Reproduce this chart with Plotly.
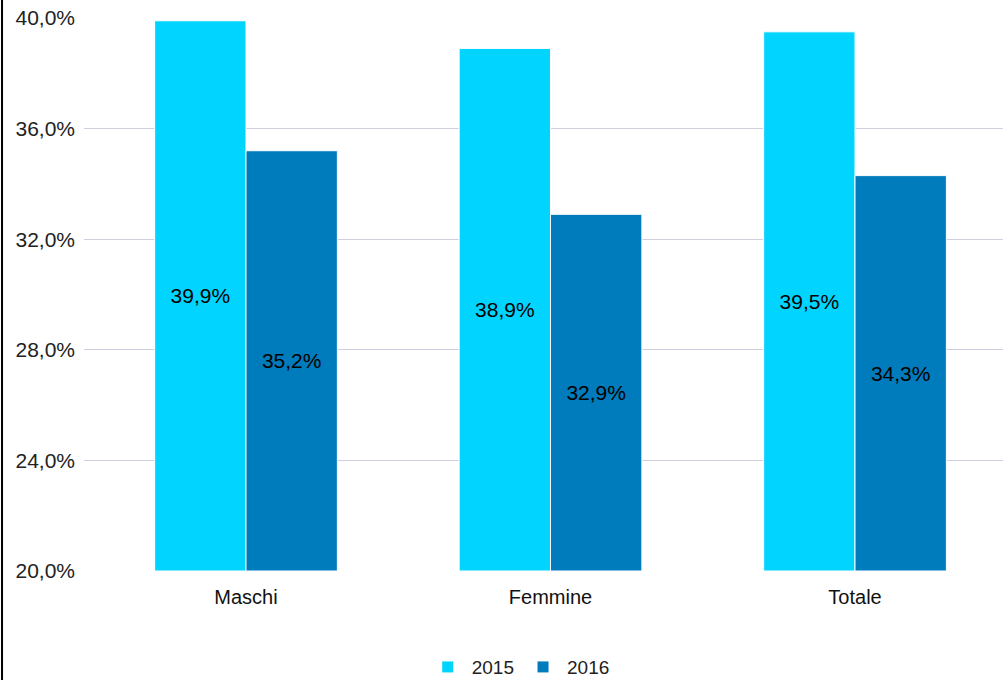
import plotly.graph_objects as go

categories = ["Maschi", "Femmine", "Totale"]
years = ["2015", "2016"]
values_2015 = [39.9, 38.9, 39.5]
values_2016 = [35.2, 32.9, 34.3]
tick_vals = [20, 24, 28, 32, 36, 40]
tick_text = ["20,0%", "24,0%", "28,0%", "32,0%", "36,0%", "40,0%"]
y_base = 20

colors = {"2015": "#00d4ff", "2016": "#007bbb"}

def fmt(v):
    return f"{v:.1f}%".replace(".", ",")

fig = go.Figure()
for year, vals in zip(years, [values_2015, values_2016]):
    # bars start at the axis floor so the labels sit in the visible middle
    fig.add_trace(go.Bar(
        x=categories, y=[v - y_base for v in vals], base=y_base, name=year,
        marker=dict(color=colors[year], line=dict(color="#ffffff", width=1)),
        text=[fmt(v) for v in vals],
        textposition="inside",
        insidetextanchor="middle",
        textangle=0,
        textfont=dict(color="#000000", size=21),
        hoverinfo="skip",
    ))

# left frame line of the original picture
fig.add_shape(type="line", xref="paper", yref="paper",
              x0=-0.0892, x1=-0.0892, y0=-0.2, y1=1.04,
              line=dict(color="#000000", width=2))

fig.update_layout(
    width=1003, height=680,
    barmode="group",
    bargap=0.4,
    bargroupgap=0,
    plot_bgcolor="#ffffff",
    paper_bgcolor="#ffffff",
    font=dict(family="Liberation Sans, Arial, sans-serif", size=18, color="#222222"),
    margin=dict(l=84, r=0, t=18, b=109),
    uniformtext=dict(minsize=21, mode="show"),
    xaxis=dict(range=[-0.532, 2.486], showgrid=False, showline=False,
               ticks="", ticklabelstandoff=12,
               tickfont=dict(size=20, color="#111111")),
    yaxis=dict(range=[20, 40], tickvals=tick_vals, ticktext=tick_text,
               showgrid=True, gridcolor="#cfcfdf", gridwidth=1,
               zeroline=False, showline=False, ticks="",
               ticklabelstandoff=8,
               tickfont=dict(size=21, color="#222222")),
    legend=dict(orientation="h", x=0.4736, xanchor="center",
                yref="container", y=0.019, yanchor="middle",
                font=dict(size=19, color="#222222"),
                itemwidth=38, traceorder="normal"),
    showlegend=True,
)

fig.write_html("out.html", config={"displayModeBar": False},
               post_script="document.body.style.margin='0';")
